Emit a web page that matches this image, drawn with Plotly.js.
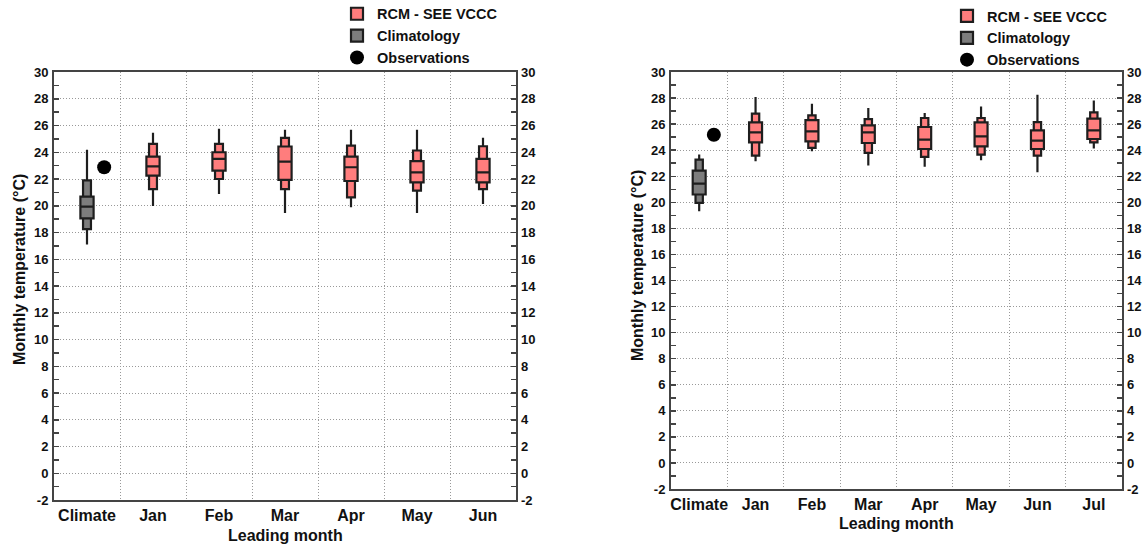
<!DOCTYPE html>
<html>
<head>
<meta charset="utf-8">
<script src="https://cdn.plot.ly/plotly-3.0.1.min.js"></script>
<style>html,body{margin:0;padding:0;background:#fff;}#chart{width:1146px;height:545px;}</style>
</head>
<body>
<div id="chart"></div>
<script>
// ---------- DATA ----------
const catsLeft = ['Climate', 'Jan', 'Feb', 'Mar', 'Apr', 'May', 'Jun'];
const catsRight = ['Climate', 'Jan', 'Feb', 'Mar', 'Apr', 'May', 'Jun', 'Jul'];

// Left panel: climatology (min, p10, p25, median, p75, p90, max)
const climL = {min: 17.1, p10: 18.25, p25: 19.05, med: 19.93, p75: 20.68, p90: 21.9, max: 24.18};
// Left panel: RCM - SEE VCCC, Jan..Jun
const rcmL_min = [19.98, 20.88, 19.45, 19.88, 19.45, 20.13];
const rcmL_p10 = [21.25, 22.0, 21.25, 20.63, 21.13, 21.25];
const rcmL_p25 = [22.25, 22.63, 21.93, 21.85, 21.75, 21.75];
const rcmL_med = [22.95, 23.5, 23.3, 22.88, 22.5, 22.5];
const rcmL_p75 = [23.68, 24.0, 24.43, 23.68, 23.33, 23.5];
const rcmL_p90 = [24.63, 24.63, 25.08, 24.5, 24.13, 24.45];
const rcmL_max = [25.45, 25.75, 25.68, 25.68, 25.68, 25.08];
const obsL = 22.88;

// Right panel
const climR = {min: 19.32, p10: 19.96, p25: 20.6, med: 21.44, p75: 22.43, p90: 23.28, max: 23.66};
const rcmR_min = [23.15, 23.92, 22.82, 22.72, 23.23, 22.31, 24.12];
const rcmR_p10 = [23.58, 24.17, 23.79, 23.48, 23.66, 23.58, 24.6];
const rcmR_p25 = [24.6, 24.68, 24.55, 24.09, 24.3, 24.09, 24.86];
const rcmR_med = [25.37, 25.45, 25.37, 24.81, 25.06, 24.73, 25.52];
const rcmR_p75 = [26.14, 26.31, 25.9, 25.78, 26.14, 25.52, 26.42];
const rcmR_p90 = [26.8, 26.67, 26.39, 26.47, 26.47, 26.16, 26.9];
const rcmR_max = [28.08, 27.57, 27.23, 26.85, 27.36, 28.26, 27.82];
const obsR = 25.19;

const yTickVals = [-2, 0, 2, 4, 6, 8, 10, 12, 14, 16, 18, 20, 22, 24, 26, 28, 30];
const yTickText = yTickVals.map(v => String(v));
const xTitle = 'Leading month';
const yTitle = 'Monthly temperature (°C)';

// ---------- STYLE ----------
const FAM = '"Liberation Sans", Arial, Helvetica, sans-serif';
const TXT = '#111';
const RED = '#ff7d7d';
const GREY = '#7d7d7d';
const EDGE = '#1e1e1e';
const FRAME = '#444';
const GRID = '#999';
const GRIDDASH = '1px,2px';
const OBS_OFFSET = 0.26;

function boxPair(xs, st, fill, name, legend, xa, ya, wOuter, wInner, group, showLeg) {
  const outer = {
    type: 'box', x: xs, q1: st.p10, median: st.med, q3: st.p90,
    lowerfence: st.min, upperfence: st.max,
    width: wOuter, whiskerwidth: 0, boxpoints: false,
    fillcolor: fill, line: {color: EDGE, width: 2.2},
    name: name, legend: legend, legendgroup: group, showlegend: showLeg,
    xaxis: xa, yaxis: ya, hoverinfo: 'skip'
  };
  const inner = {
    type: 'box', x: xs, q1: st.p25, median: st.med, q3: st.p75,
    lowerfence: st.p25, upperfence: st.p75,
    width: wInner, whiskerwidth: 0, boxpoints: false,
    fillcolor: fill, line: {color: EDGE, width: 2.2},
    name: name, legend: legend, legendgroup: group, showlegend: false,
    xaxis: xa, yaxis: ya, hoverinfo: 'skip'
  };
  return [outer, inner];
}

const idx = (arr) => arr.map((_, i) => i);
const xsL = catsLeft.slice(1).map((_, i) => i + 1);
const xsR = catsRight.slice(1).map((_, i) => i + 1);

const rcmLstats = {min: rcmL_min, p10: rcmL_p10, p25: rcmL_p25, med: rcmL_med, p75: rcmL_p75, p90: rcmL_p90, max: rcmL_max};
const rcmRstats = {min: rcmR_min, p10: rcmR_p10, p25: rcmR_p25, med: rcmR_med, p75: rcmR_p75, p90: rcmR_p90, max: rcmR_max};
const wrap = (s) => ({min: [s.min], p10: [s.p10], p25: [s.p25], med: [s.med], p75: [s.p75], p90: [s.p90], max: [s.max]});

const climIdx = catsLeft.indexOf('Climate');
const climIdxR = catsRight.indexOf('Climate');

const data = [
  ...boxPair(xsL, rcmLstats, RED, 'RCM - SEE VCCC', 'legend', 'x', 'y', 0.12, 0.2, 'rcmL', true),
  ...boxPair([climIdx], wrap(climL), GREY, 'Climatology', 'legend', 'x', 'y', 0.12, 0.2, 'climL', true),
  {type: 'scatter', mode: 'markers', x: [climIdx + OBS_OFFSET], y: [obsL], name: 'Observations',
   marker: {color: '#000', size: 14, symbol: 'circle'}, legend: 'legend', xaxis: 'x', yaxis: 'y2', hoverinfo: 'skip'},
  ...boxPair(xsR, rcmRstats, RED, 'RCM - SEE VCCC', 'legend2', 'x3', 'y3', 0.13, 0.23, 'rcmR', true),
  ...boxPair([climIdxR], wrap(climR), GREY, 'Climatology', 'legend2', 'x3', 'y3', 0.13, 0.23, 'climR', true),
  {type: 'scatter', mode: 'markers', x: [climIdxR + OBS_OFFSET], y: [obsR], name: 'Observations',
   marker: {color: '#000', size: 14, symbol: 'circle'}, legend: 'legend2', xaxis: 'x3', yaxis: 'y4', hoverinfo: 'skip'}
];

function xAxis(cats, domain, anchor) {
  return {
    domain: domain, anchor: anchor, range: [-0.5, cats.length - 0.5],
    tickmode: 'array', tickvals: idx(cats), ticktext: cats,
    ticks: '', showgrid: false, zeroline: false,
    showline: true, mirror: true, linecolor: FRAME, linewidth: 2,
    tickfont: {family: FAM, size: 16, color: TXT, weight: 'bold'},
    minor: {tickmode: 'linear', tick0: 0.5, dtick: 1, showgrid: true, gridcolor: GRID, griddash: GRIDDASH, gridwidth: 1, ticks: ''},
    automargin: false, fixedrange: true
  };
}
function yAxis(domain, anchor, side, overlay) {
  const a = {
    domain: domain, anchor: anchor, range: [-2, 30], side: side,
    tickmode: 'array', tickvals: yTickVals, ticktext: yTickText,
    ticks: 'inside', ticklen: 5, tickwidth: 1.5, tickcolor: FRAME,
    minor: {tickmode: 'linear', tick0: 0, dtick: 1, ticks: 'inside', ticklen: 5, tickwidth: 1.5, tickcolor: FRAME, showgrid: false},
    zeroline: false,
    tickfont: {family: FAM, size: 13, color: TXT, weight: 'bold'},
    automargin: false, fixedrange: true
  };
  if (overlay) {
    a.overlaying = overlay; a.showgrid = false; a.showline = false; a.ticklabelstandoff = 4;
  } else {
    a.showgrid = true; a.gridcolor = GRID; a.griddash = GRIDDASH; a.gridwidth = 1;
    a.showline = true; a.mirror = true; a.linecolor = FRAME; a.linewidth = 2;
    a.ticklabelstandoff = 1;
  }
  return a;
}

const W = 1146, H = 545;
const dxL = [54 / W, 516 / W], dyL = [1 - 500 / H, 1 - 72 / H];
const dxR = [671 / W, 1122 / W], dyR = [1 - 489 / H, 1 - 72 / H];

const titleFont = {family: FAM, size: 16, color: TXT, weight: 'bold'};
const annotations = [
  {text: xTitle, xref: 'paper', yref: 'paper', x: (dxL[0] + dxL[1]) / 2, y: 1 - 535 / H, showarrow: false, font: titleFont, xanchor: 'center', yanchor: 'middle'},
  {text: xTitle, xref: 'paper', yref: 'paper', x: (dxR[0] + dxR[1]) / 2, y: 1 - 523 / H, showarrow: false, font: titleFont, xanchor: 'center', yanchor: 'middle'},
  {text: yTitle, xref: 'paper', yref: 'paper', x: 19 / W, y: 1 - 270 / H, showarrow: false, font: titleFont, textangle: -90, xanchor: 'center', yanchor: 'middle'},
  {text: yTitle, xref: 'paper', yref: 'paper', x: 637 / W, y: 1 - 266 / H, showarrow: false, font: titleFont, textangle: -90, xanchor: 'center', yanchor: 'middle'}
];

const legendBase = {
  xanchor: 'left', yanchor: 'top',
  font: {family: FAM, size: 14.5, color: TXT, weight: 'bold'},
  bgcolor: 'rgba(0,0,0,0)', borderwidth: 0, tracegroupgap: 0, itemclick: false, itemdoubleclick: false
};

const layout = {
  width: W, height: H,
  margin: {l: 0, r: 0, t: 0, b: 0, autoexpand: false},
  paper_bgcolor: '#fff', plot_bgcolor: '#fff',
  boxmode: 'overlay',
  xaxis: xAxis(catsLeft, dxL, 'y'),
  yaxis: yAxis(dyL, 'x', 'left', null),
  yaxis2: yAxis(dyL, 'x', 'right', 'y'),
  xaxis3: xAxis(catsRight, dxR, 'y3'),
  yaxis3: yAxis(dyR, 'x3', 'left', null),
  yaxis4: yAxis(dyR, 'x3', 'right', 'y3'),
  legend: Object.assign({}, legendBase, {x: 337 / W, y: 1.004}),
  legend2: Object.assign({}, legendBase, {x: 947 / W, y: 1.0}),
  annotations: annotations,
  showlegend: true
};

Plotly.newPlot('chart', data, layout, {staticPlot: true, displayModeBar: false});
</script>
</body>
</html>
